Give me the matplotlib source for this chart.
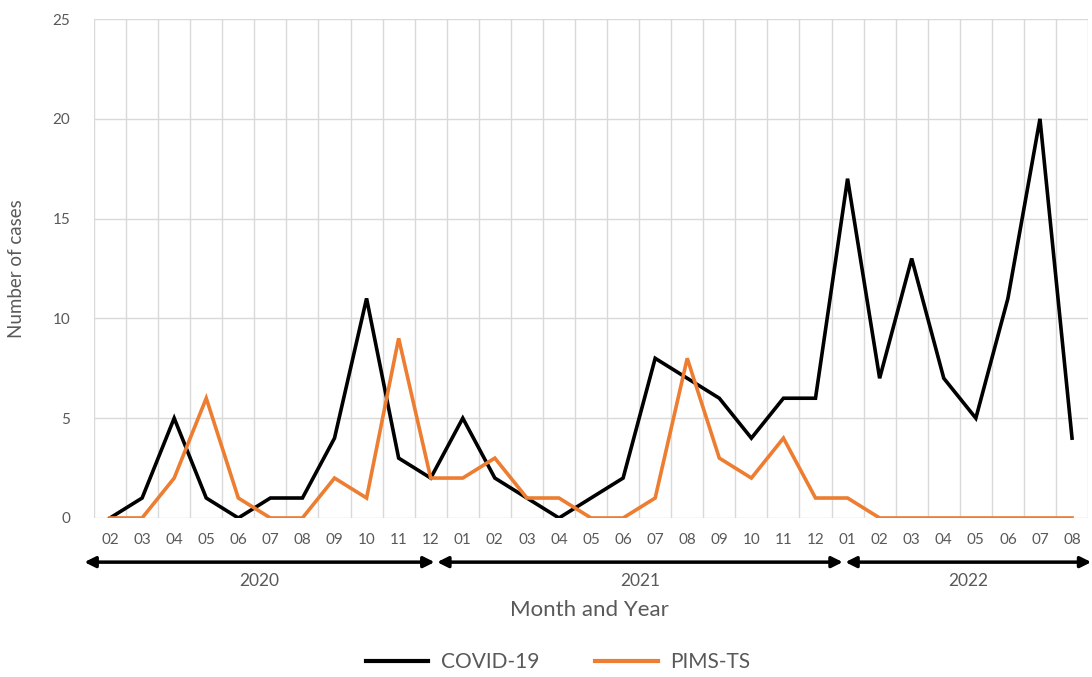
import matplotlib
matplotlib.use("Agg")
import matplotlib.pyplot as plt
from matplotlib.lines import Line2D

months = ["02","03","04","05","06","07","08","09","10","11","12",
          "01","02","03","04","05","06","07","08","09","10","11","12",
          "01","02","03","04","05","06","07","08"]
covid = [0,1,5,1,0,1,1,4,11,3,2,
         5,2,1,0,1,2,8,7,6,4,6,6,
         17,7,13,7,5,11,20,4]
pims = [0,0,2,6,1,0,0,2,1,9,2,
        2,3,1,1,0,0,1,8,3,2,4,1,
        1,0,0,0,0,0,0,0]
years = ["2020", "2021", "2022"]
year_spans = [(-0.8, 10.12), (10.2, 22.85), (22.93, 30.6)]

plt.rcParams['font.family'] = ['Lato', 'DejaVu Sans']
GRAY = "#595959"
GRID = "#d9d9d9"

fig = plt.figure(figsize=(10.92, 6.77), dpi=100)
ax = fig.add_axes([0.0861, 0.2349, 0.9103, 0.737])

x = list(range(len(months)))
ax.plot(x, covid, color="black", lw=2.6, label="COVID-19", zorder=3, solid_joinstyle="miter")
ax.plot(x, pims, color="#ED7D31", lw=2.6, label="PIMS-TS", zorder=3, solid_joinstyle="miter")

ax.set_xlim(-0.5, len(months) - 0.5)
ax.set_ylim(0, 25)
ax.set_yticks([0, 5, 10, 15, 20, 25])
ax.set_xticks(x)
ax.set_xticklabels(months)
ax.set_xticks([i - 0.5 for i in range(len(months) + 1)], minor=True)
ax.grid(True, axis="y", which="major", color=GRID, lw=1)
ax.grid(True, axis="x", which="minor", color=GRID, lw=1)
ax.grid(False, axis="x", which="major")
ax.tick_params(axis="both", which="both", length=0, colors=GRAY, labelsize=11)
ax.tick_params(axis="x", pad=11)
ax.tick_params(axis="y", pad=17)
for s in ax.spines.values():
    s.set_visible(False)
ax.set_axisbelow(True)

ax.set_ylabel("Number of cases", color=GRAY, fontsize=13.5, labelpad=20)

trans = ax.get_xaxis_transform()
for (a, b), yr in zip(year_spans, years):
    ax.annotate("", xy=(b, -0.0885), xytext=(a, -0.0885), xycoords=trans, textcoords=trans,
                arrowprops=dict(arrowstyle="<|-|>", color="black", lw=2.5,
                                mutation_scale=16, shrinkA=0, shrinkB=0),
                annotation_clip=False)
    ax.text((a + b) / 2, -0.127, yr, transform=trans, ha="center", va="center",
            color=GRAY, fontsize=12.5)

fig.text(0.54, 0.099, "Month and Year", ha="center", va="center", color=GRAY, fontsize=16)

handles = [Line2D([0], [0], color="black", lw=3), Line2D([0], [0], color="#ED7D31", lw=3)]
leg = fig.legend(handles, ["COVID-19", "PIMS-TS"], loc="center", bbox_to_anchor=(0.511, 0.022),
                 ncol=2, frameon=False, fontsize=15, handlelength=3.0, columnspacing=2.7,
                 handletextpad=0.6)
for t in leg.get_texts():
    t.set_color(GRAY)

fig.savefig("out.png", dpi=100)
